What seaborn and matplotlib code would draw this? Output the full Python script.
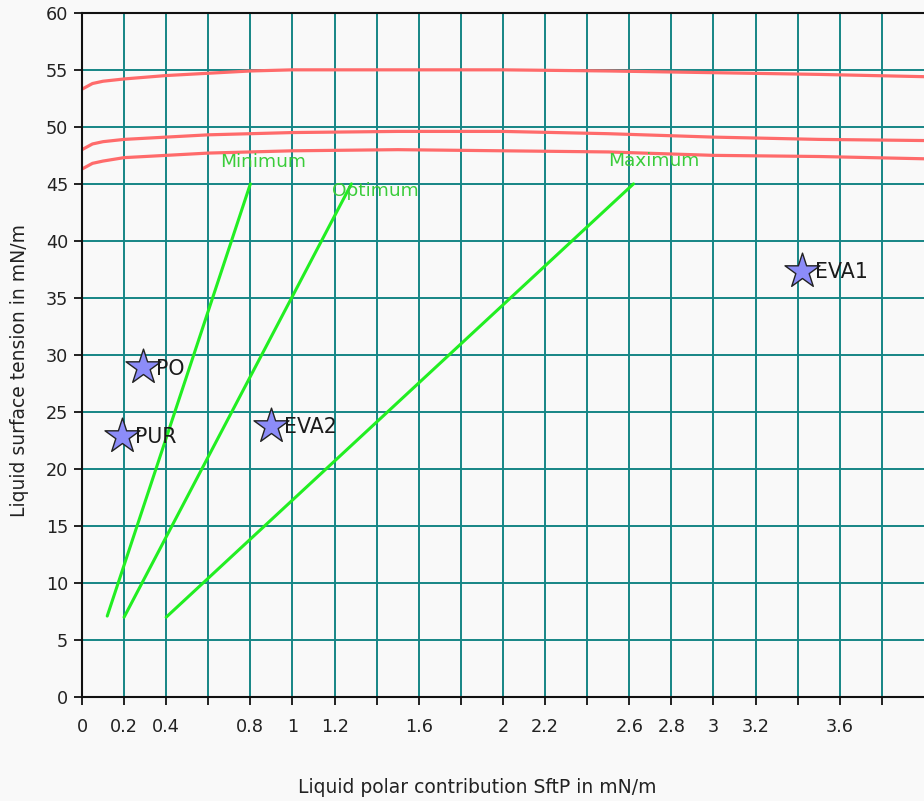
import numpy as np
import pandas as pd
import seaborn as sns
import matplotlib.pyplot as plt

# red iso-curves
curve_x = [0, 0.05, 0.1, 0.2, 0.4, 0.6, 0.8, 1.0, 1.5, 2.0, 2.5, 3.0, 3.5, 4.0]
curve_top = [53.3, 53.8, 54.0, 54.2, 54.5, 54.7, 54.9, 55.0, 55.0, 55.0, 54.9, 54.75, 54.6, 54.4]
curve_mid = [48.0, 48.5, 48.7, 48.9, 49.1, 49.3, 49.4, 49.5, 49.6, 49.6, 49.4, 49.1, 48.9, 48.8]
curve_low = [46.3, 46.8, 47.0, 47.3, 47.5, 47.7, 47.8, 47.9, 48.0, 47.9, 47.8, 47.5, 47.4, 47.2]

# green guide lines
guide_names = ["Minimum", "Optimum", "Maximum"]
guide_x = [[0.12, 0.8], [0.2, 1.28], [0.4, 2.62]]
guide_y = [[7.1, 45.0], [7.0, 45.0], [7.0, 45.0]]
guide_label_pos = [(0.655, 46.9), (1.19, 44.4), (2.5, 47.0)]

# materials
mat_names = ["PO", "PUR", "EVA2", "EVA1"]
mat_x = [0.29, 0.19, 0.90, 3.42]
mat_y = [28.9, 22.9, 23.8, 37.4]

x_tick_labels = {0: "0", 0.2: "0.2", 0.4: "0.4", 0.8: "0.8", 1.0: "1", 1.2: "1.2",
                 1.6: "1.6", 2.0: "2", 2.2: "2.2", 2.6: "2.6", 2.8: "2.8",
                 3.0: "3", 3.2: "3.2", 3.6: "3.6"}

sns.set_theme(style="white")
plt.rcParams['font.family'] = ['DejaVu Sans']
bg = "#f9f9f9"

fig = plt.figure(figsize=(9.24, 8.01), dpi=100, facecolor=bg)
ax = fig.add_axes([0.0887, 0.1298, 0.9113, 0.8542])
ax.set_facecolor(bg)

for cy in [curve_top, curve_mid, curve_low]:
    sns.lineplot(x=curve_x, y=cy, ax=ax, color="#ff6b6b", linewidth=2.3,
                 estimator=None, sort=False)

for name, gx, gy, (lx, ly) in zip(guide_names, guide_x, guide_y, guide_label_pos):
    sns.lineplot(x=gx, y=gy, ax=ax, color="#22ee22", linewidth=2.2,
                 estimator=None, sort=False)
    ax.text(lx, ly, name, color="#3acc3a", fontsize=13.3, va="center", ha="left")

mats = pd.DataFrame({"x": mat_x, "y": mat_y, "name": mat_names})
sns.scatterplot(data=mats, x="x", y="y", ax=ax, marker="*", s=700,
                color="#8c8cf8", edgecolor="#222222", linewidth=1.0, zorder=5)
for _, r in mats.iterrows():
    ax.text(r.x + 0.06, r.y - 0.1, r["name"], fontsize=14.8, color="#1a1a1a",
            va="center", ha="left", zorder=6)

ax.set_xlim(0, 4.0)
ax.set_ylim(0, 60)
xt = np.round(np.arange(0, 4.0, 0.2), 1)
ax.set_xticks(xt)
ax.set_xticklabels([x_tick_labels.get(float(v), "") for v in xt])
ax.set_yticks(np.arange(0, 61, 5))
ax.grid(True, color="#168585", linewidth=1.4)
ax.set_axisbelow(True)
ax.tick_params(axis="both", direction="out", length=6, width=1.3, color="#111111",
               labelsize=12.7, labelcolor="#222222", bottom=True, left=True)
ax.tick_params(axis="x", pad=9)
ax.tick_params(axis="y", pad=4)

for s in ["left", "bottom", "top"]:
    ax.spines[s].set_color("#111111")
    ax.spines[s].set_linewidth(1.5)
ax.spines["right"].set_visible(False)

ax.set_xlabel("Liquid polar contribution SftP in mN/m", fontsize=13.5, color="#222222")
ax.set_ylabel("Liquid surface tension in mN/m", fontsize=13.5, color="#222222")
ax.xaxis.set_label_coords(0.469, -0.119)
ax.yaxis.set_label_coords(-0.063, 0.477)

fig.savefig("out.png", dpi=100, facecolor=bg)
